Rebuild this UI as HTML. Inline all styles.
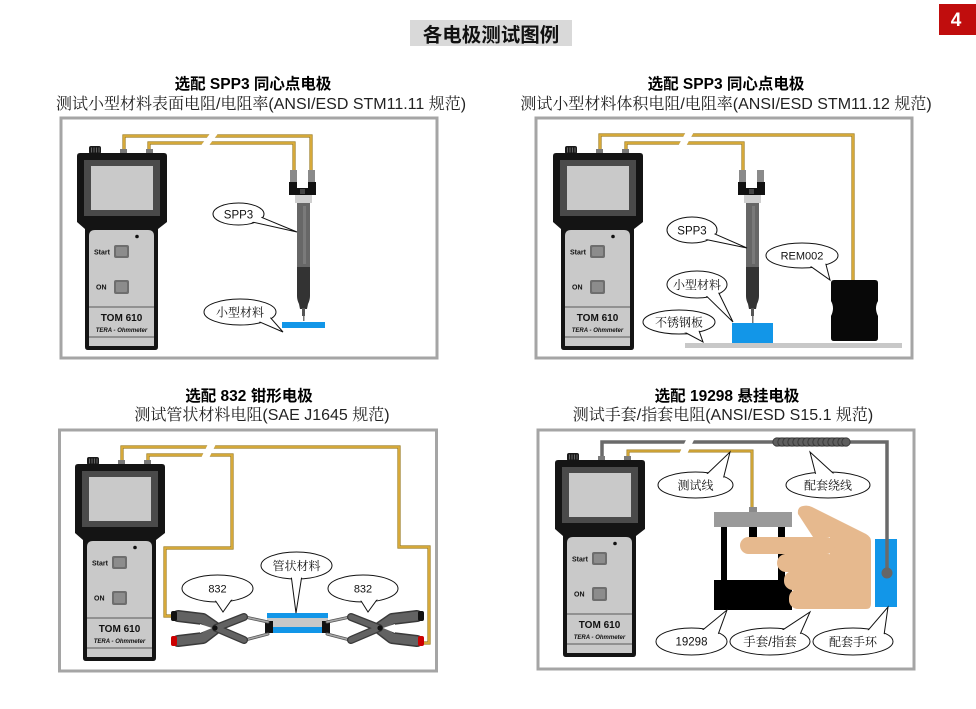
<!DOCTYPE html>
<html><head><meta charset="utf-8"><style>
html,body{margin:0;padding:0;background:#fff;}
svg{display:block;}
.s{font-family:"Liberation Sans","Noto Sans CJK SC",sans-serif;}
.r{font-family:"Liberation Sans","Noto Serif CJK SC","Noto Sans CJK SC",sans-serif;}
.mb{font-family:"Liberation Sans",sans-serif;font-size:7px;font-weight:bold;fill:#111;}
.mt{font-family:"Liberation Sans",sans-serif;font-weight:bold;fill:#111;}
.cl{font-size:12px;fill:#111;}
</style></head><body>
<svg width="976" height="709" viewBox="0 0 976 709" xmlns="http://www.w3.org/2000/svg">
<rect width="976" height="709" fill="#fff"/>
<!-- title -->
<rect x="410" y="20" width="162" height="26" fill="#d9d9d9"/>
<text x="491" y="41.5" text-anchor="middle" class="s" font-size="19.5" font-weight="bold" fill="#111">各电极测试图例</text>
<rect x="939" y="4" width="37" height="31" fill="#c00d0d"/>
<text x="956" y="26" text-anchor="middle" class="s" font-size="19" font-weight="bold" fill="#fff">4</text>

<!-- headings -->
<text x="253" y="89" text-anchor="middle" class="s" font-size="15.5" font-weight="bold" fill="#000">选配 SPP3 同心点电极</text>
<text x="261" y="109" text-anchor="middle" class="r" font-size="16" fill="#222">测试小型材料表面电阻/电阻率(ANSI/ESD STM11.11 规范)</text>
<text x="726" y="89" text-anchor="middle" class="s" font-size="15.5" font-weight="bold" fill="#000">选配 SPP3 同心点电极</text>
<text x="726" y="109" text-anchor="middle" class="r" font-size="16" fill="#222">测试小型材料体积电阻/电阻率(ANSI/ESD STM11.12 规范)</text>
<text x="249" y="401" text-anchor="middle" class="s" font-size="15.5" font-weight="bold" fill="#000">选配 832 钳形电极</text>
<text x="262" y="420" text-anchor="middle" class="r" font-size="16" fill="#222">测试管状材料电阻(SAE J1645 规范)</text>
<text x="727" y="401" text-anchor="middle" class="s" font-size="15.5" font-weight="bold" fill="#000">选配 19298 悬挂电极</text>
<text x="723" y="420" text-anchor="middle" class="r" font-size="16" fill="#222">测试手套/指套电阻(ANSI/ESD S15.1 规范)</text>

<!-- panels -->
<g fill="none" stroke="#a5a5a5" stroke-width="3">
<rect x="61" y="118" width="376" height="240"/>
<rect x="536" y="118" width="376" height="240"/>
<rect x="59.5" y="430" width="377" height="241"/>
<rect x="538" y="430" width="376" height="239"/>
</g>

<!-- ============ TOP LEFT ============ -->
<g fill="none" stroke-linejoin="miter">
<path d="M124 152V136H311V172" stroke="#9a7a20" stroke-width="3.2"/>
<path d="M124 152V136H311V172" stroke="#dcae3c" stroke-width="1.8"/>
<path d="M149 152V143H294V172" stroke="#9a7a20" stroke-width="3.2"/>
<path d="M149 152V143H294V172" stroke="#dcae3c" stroke-width="1.8"/>
</g>
<polygon points="212,131 220,131 207,148 199,148" fill="#fff"/>
<!-- probe TL -->
<g>
<rect x="290" y="170" width="7" height="13" fill="#8a8a8a"/>
<rect x="308" y="170" width="7" height="13" fill="#8a8a8a"/>
<path d="M289 182H297V188H308V182H316V195H289Z" fill="#111"/>
<rect x="300" y="189" width="5" height="5" fill="#444"/>
<rect x="295" y="195" width="17" height="8" fill="#d0d0d0"/>
<rect x="297" y="203" width="13" height="64" fill="#676767"/>
<rect x="303" y="206" width="3" height="58" fill="#7a7a7a"/>
<path d="M297 267H310V296Q310 300 308 304L307 309H300L299 304Q297 300 297 296Z" fill="#333"/>
<rect x="302" y="308" width="3" height="8" fill="#555"/>
<rect x="303" y="316" width="1.5" height="5" fill="#777"/>
<rect x="282" y="322" width="43" height="6" fill="#1296e8"/>
</g>

<!-- ============ TOP RIGHT ============ -->
<g fill="none">
<path d="M600 152V135H853V281" stroke="#9a7a20" stroke-width="3.2"/>
<path d="M600 152V135H853V281" stroke="#dcae3c" stroke-width="1.8"/>
<path d="M626 152V143H743V172" stroke="#9a7a20" stroke-width="3.2"/>
<path d="M626 152V143H743V172" stroke="#dcae3c" stroke-width="1.8"/>
</g>
<polygon points="687,130 695,130 685,148 677,148" fill="#fff"/>
<g transform="translate(449,0)">
<rect x="290" y="170" width="7" height="13" fill="#8a8a8a"/>
<rect x="308" y="170" width="7" height="13" fill="#8a8a8a"/>
<path d="M289 182H297V188H308V182H316V195H289Z" fill="#111"/>
<rect x="300" y="189" width="5" height="5" fill="#444"/>
<rect x="295" y="195" width="17" height="8" fill="#d0d0d0"/>
<rect x="297" y="203" width="13" height="64" fill="#676767"/>
<rect x="303" y="206" width="3" height="58" fill="#7a7a7a"/>
<path d="M297 267H310V296Q310 300 308 304L307 309H300L299 304Q297 300 297 296Z" fill="#333"/>
<rect x="302" y="308" width="3" height="8" fill="#555"/>
<rect x="303" y="316" width="1.5" height="7" fill="#777"/>
</g>
<rect x="685" y="343" width="217" height="5" fill="#c8c8c8"/>
<rect x="732" y="323" width="41" height="20" fill="#1296e8"/>
<path d="M834 280H875Q878 280 878 283V301Q874 308 878 316V338Q878 341 875 341H834Q831 341 831 338V316Q835 308 831 301V283Q831 280 834 280Z" fill="#080808"/>

<!-- ============ BOTTOM LEFT ============ -->
<g fill="none">
<path d="M122 463V447H399V547H429V643H419" stroke="#9a7a20" stroke-width="3.2"/>
<path d="M122 463V447H399V547H429V643H419" stroke="#dcae3c" stroke-width="1.8"/>
<path d="M148 463V455H232V548H165V616H175" stroke="#9a7a20" stroke-width="3.2"/>
<path d="M148 463V455H232V548H165V616H175" stroke="#dcae3c" stroke-width="1.8"/>
</g>
<polygon points="209,442 217,442 208,460 200,460" fill="#fff"/>
<!-- tube -->
<rect x="267" y="613" width="61" height="20" fill="#c8c8c8"/>
<rect x="267" y="613" width="61" height="5" fill="#1296e8"/>
<rect x="267" y="627" width="61" height="6" fill="#1296e8"/>
<rect x="265" y="621" width="8" height="12" fill="#111"/>
<rect x="322" y="621" width="8" height="12" fill="#111"/>
<!-- left clamp -->
<g stroke-linecap="round" fill="none">
<path d="M245 617L268 622M245 640L268 634" stroke="#555" stroke-width="3"/>
<path d="M245 617L268 622M245 640L268 634" stroke="#aaa" stroke-width="1.5"/>
<path d="M178 616L203 619L216 628L203 638L178 641" stroke="#3a3a3a" stroke-width="12" stroke-linejoin="round"/>
<path d="M178 616L203 619L216 628L203 638L178 641" stroke="#626262" stroke-width="9" stroke-linejoin="round"/>
<path d="M216 628L244 617M216 628L244 640" stroke="#3a3a3a" stroke-width="8"/>
<path d="M216 628L244 617M216 628L244 640" stroke="#626262" stroke-width="5.5"/>
</g>
<path d="M200 624L212 628L200 633Z" fill="#fff"/>
<circle cx="215" cy="628" r="2.6" fill="#111"/>
<rect x="171" y="611" width="6" height="10" rx="2" fill="#111"/>
<rect x="171" y="636" width="6" height="10" rx="2" fill="#c00"/>
<!-- right clamp (mirrored) -->
<g transform="translate(595,0) scale(-1,1)">
<g stroke-linecap="round" fill="none">
<path d="M245 617L268 622M245 640L268 634" stroke="#555" stroke-width="3"/>
<path d="M245 617L268 622M245 640L268 634" stroke="#aaa" stroke-width="1.5"/>
<path d="M178 616L203 619L216 628L203 638L178 641" stroke="#3a3a3a" stroke-width="12" stroke-linejoin="round"/>
<path d="M178 616L203 619L216 628L203 638L178 641" stroke="#626262" stroke-width="9" stroke-linejoin="round"/>
<path d="M216 628L244 617M216 628L244 640" stroke="#3a3a3a" stroke-width="8"/>
<path d="M216 628L244 617M216 628L244 640" stroke="#626262" stroke-width="5.5"/>
</g>
<path d="M200 624L212 628L200 633Z" fill="#fff"/>
<circle cx="215" cy="628" r="2.6" fill="#111"/>
<rect x="171" y="611" width="6" height="10" rx="2" fill="#111"/>
<rect x="171" y="636" width="6" height="10" rx="2" fill="#c00"/>
</g>

<!-- ============ BOTTOM RIGHT ============ -->
<path d="M602 459V442H887V573" fill="none" stroke="#6a6a6a" stroke-width="3.5"/>
<g fill="none">
<path d="M628 459V451H752V509" stroke="#9a7a20" stroke-width="3"/>
<path d="M628 459V451H752V509" stroke="#dcae3c" stroke-width="1.6"/>
</g>
<polygon points="688,436 696,436 686,456 678,456" fill="#fff"/>
<!-- coil -->
<rect x="773" y="437.5" width="77" height="9" rx="4.5" fill="#4a4a4a"/>
<g fill="#5e5e5e" stroke="#333" stroke-width="0.8">
<circle cx="777" cy="442" r="4.2"/><circle cx="782" cy="442" r="4.2"/><circle cx="787" cy="442" r="4.2"/><circle cx="792" cy="442" r="4.2"/><circle cx="797" cy="442" r="4.2"/><circle cx="802" cy="442" r="4.2"/><circle cx="807" cy="442" r="4.2"/><circle cx="812" cy="442" r="4.2"/><circle cx="817" cy="442" r="4.2"/><circle cx="822" cy="442" r="4.2"/><circle cx="827" cy="442" r="4.2"/><circle cx="832" cy="442" r="4.2"/><circle cx="837" cy="442" r="4.2"/><circle cx="842" cy="442" r="4.2"/><circle cx="846" cy="442" r="4.2"/>
</g>
<!-- fixture -->
<rect x="749" y="507" width="8" height="6" fill="#8a8a8a"/>
<rect x="714" y="512" width="78" height="15" fill="#9a9a9a"/>
<rect x="721" y="527" width="6" height="55" fill="#000"/>
<rect x="749" y="527" width="8" height="12" fill="#000"/>
<rect x="778" y="527" width="7" height="55" fill="#000"/>
<rect x="714" y="580" width="78" height="30" fill="#000"/>
<!-- hand -->
<g fill="#e6b98e">
<path d="M803 506Q797 507 798 514L813 537H830V609H866Q871 609 871 604V541Q871 537 866 534L812 507Q808 505 803 506Z"/>
<rect x="740" y="537" width="95" height="17" rx="8.5"/>
<rect x="777" y="554" width="60" height="18" rx="9"/>
<rect x="784" y="571" width="55" height="19" rx="9"/>
<rect x="789" y="589" width="50" height="20" rx="9"/>
</g>
<!-- band -->
<rect x="875" y="539" width="22" height="68" fill="#1296e8"/>
<path d="M887 539V573" stroke="#6a6a6a" stroke-width="3.5"/>
<circle cx="887" cy="573" r="5.5" fill="#666"/>

<!-- ============ METERS ============ -->
<g>
<rect x="89" y="146" width="12" height="8" rx="2" fill="#1a1a1a"/>
<path d="M91.5 147.5v5M94 147.5v5M96.5 147.5v5M99 147.5v5" stroke="#777" stroke-width="0.8"/>
<rect x="120" y="149" width="7" height="5" fill="#7a7a7a"/>
<rect x="146" y="149" width="7" height="5" fill="#7a7a7a"/>
<path d="M80 153H164Q167 153 167 156V222L158 229V347Q158 350 155 350H88Q85 350 85 347V229L77 222V156Q77 153 80 153Z" fill="#141414"/>
<rect x="84" y="160" width="76" height="56" fill="#4a4a4a"/>
<rect x="91" y="166" width="62" height="44" fill="#c9c9c9"/>
<path d="M89 236Q89 230 95 230H148Q154 230 154 236V346H89Z" fill="#c9c9c9"/>
<circle cx="137" cy="236.5" r="1.8" fill="#111"/>
<text x="94" y="254.5" class="mb">Start</text>
<rect x="114" y="245" width="15" height="13" rx="2" fill="#6e6e6e"/>
<rect x="116" y="247" width="11" height="9" rx="1" fill="#8c8c8c"/>
<text x="96" y="289.5" class="mb">ON</text>
<rect x="114" y="280" width="15" height="14" rx="2" fill="#6e6e6e"/>
<rect x="116" y="282" width="11" height="10" rx="1" fill="#8c8c8c"/>
<line x1="89" y1="307" x2="154" y2="307" stroke="#333" stroke-width="0.8"/>
<text x="121.5" y="321" text-anchor="middle" class="mt" font-size="10">TOM 610</text>
<text x="121.5" y="332" text-anchor="middle" class="mt" font-size="6" font-style="italic">TERA - Ohmmeter</text>
<line x1="89" y1="337" x2="154" y2="337" stroke="#333" stroke-width="0.8"/>
</g>
<g transform="translate(476,0)">
<rect x="89" y="146" width="12" height="8" rx="2" fill="#1a1a1a"/>
<path d="M91.5 147.5v5M94 147.5v5M96.5 147.5v5M99 147.5v5" stroke="#777" stroke-width="0.8"/>
<rect x="120" y="149" width="7" height="5" fill="#7a7a7a"/>
<rect x="146" y="149" width="7" height="5" fill="#7a7a7a"/>
<path d="M80 153H164Q167 153 167 156V222L158 229V347Q158 350 155 350H88Q85 350 85 347V229L77 222V156Q77 153 80 153Z" fill="#141414"/>
<rect x="84" y="160" width="76" height="56" fill="#4a4a4a"/>
<rect x="91" y="166" width="62" height="44" fill="#c9c9c9"/>
<path d="M89 236Q89 230 95 230H148Q154 230 154 236V346H89Z" fill="#c9c9c9"/>
<circle cx="137" cy="236.5" r="1.8" fill="#111"/>
<text x="94" y="254.5" class="mb">Start</text>
<rect x="114" y="245" width="15" height="13" rx="2" fill="#6e6e6e"/>
<rect x="116" y="247" width="11" height="9" rx="1" fill="#8c8c8c"/>
<text x="96" y="289.5" class="mb">ON</text>
<rect x="114" y="280" width="15" height="14" rx="2" fill="#6e6e6e"/>
<rect x="116" y="282" width="11" height="10" rx="1" fill="#8c8c8c"/>
<line x1="89" y1="307" x2="154" y2="307" stroke="#333" stroke-width="0.8"/>
<text x="121.5" y="321" text-anchor="middle" class="mt" font-size="10">TOM 610</text>
<text x="121.5" y="332" text-anchor="middle" class="mt" font-size="6" font-style="italic">TERA - Ohmmeter</text>
<line x1="89" y1="337" x2="154" y2="337" stroke="#333" stroke-width="0.8"/>
</g>
<g transform="translate(-2,311)">
<rect x="89" y="146" width="12" height="8" rx="2" fill="#1a1a1a"/>
<path d="M91.5 147.5v5M94 147.5v5M96.5 147.5v5M99 147.5v5" stroke="#777" stroke-width="0.8"/>
<rect x="120" y="149" width="7" height="5" fill="#7a7a7a"/>
<rect x="146" y="149" width="7" height="5" fill="#7a7a7a"/>
<path d="M80 153H164Q167 153 167 156V222L158 229V347Q158 350 155 350H88Q85 350 85 347V229L77 222V156Q77 153 80 153Z" fill="#141414"/>
<rect x="84" y="160" width="76" height="56" fill="#4a4a4a"/>
<rect x="91" y="166" width="62" height="44" fill="#c9c9c9"/>
<path d="M89 236Q89 230 95 230H148Q154 230 154 236V346H89Z" fill="#c9c9c9"/>
<circle cx="137" cy="236.5" r="1.8" fill="#111"/>
<text x="94" y="254.5" class="mb">Start</text>
<rect x="114" y="245" width="15" height="13" rx="2" fill="#6e6e6e"/>
<rect x="116" y="247" width="11" height="9" rx="1" fill="#8c8c8c"/>
<text x="96" y="289.5" class="mb">ON</text>
<rect x="114" y="280" width="15" height="14" rx="2" fill="#6e6e6e"/>
<rect x="116" y="282" width="11" height="10" rx="1" fill="#8c8c8c"/>
<line x1="89" y1="307" x2="154" y2="307" stroke="#333" stroke-width="0.8"/>
<text x="121.5" y="321" text-anchor="middle" class="mt" font-size="10">TOM 610</text>
<text x="121.5" y="332" text-anchor="middle" class="mt" font-size="6" font-style="italic">TERA - Ohmmeter</text>
<line x1="89" y1="337" x2="154" y2="337" stroke="#333" stroke-width="0.8"/>
</g>
<g transform="translate(478,307)">
<rect x="89" y="146" width="12" height="8" rx="2" fill="#1a1a1a"/>
<path d="M91.5 147.5v5M94 147.5v5M96.5 147.5v5M99 147.5v5" stroke="#777" stroke-width="0.8"/>
<rect x="120" y="149" width="7" height="5" fill="#7a7a7a"/>
<rect x="146" y="149" width="7" height="5" fill="#7a7a7a"/>
<path d="M80 153H164Q167 153 167 156V222L158 229V347Q158 350 155 350H88Q85 350 85 347V229L77 222V156Q77 153 80 153Z" fill="#141414"/>
<rect x="84" y="160" width="76" height="56" fill="#4a4a4a"/>
<rect x="91" y="166" width="62" height="44" fill="#c9c9c9"/>
<path d="M89 236Q89 230 95 230H148Q154 230 154 236V346H89Z" fill="#c9c9c9"/>
<circle cx="137" cy="236.5" r="1.8" fill="#111"/>
<text x="94" y="254.5" class="mb">Start</text>
<rect x="114" y="245" width="15" height="13" rx="2" fill="#6e6e6e"/>
<rect x="116" y="247" width="11" height="9" rx="1" fill="#8c8c8c"/>
<text x="96" y="289.5" class="mb">ON</text>
<rect x="114" y="280" width="15" height="14" rx="2" fill="#6e6e6e"/>
<rect x="116" y="282" width="11" height="10" rx="1" fill="#8c8c8c"/>
<line x1="89" y1="307" x2="154" y2="307" stroke="#333" stroke-width="0.8"/>
<text x="121.5" y="321" text-anchor="middle" class="mt" font-size="10">TOM 610</text>
<text x="121.5" y="332" text-anchor="middle" class="mt" font-size="6" font-style="italic">TERA - Ohmmeter</text>
<line x1="89" y1="337" x2="154" y2="337" stroke="#333" stroke-width="0.8"/>
</g>

<!-- ============ CALLOUTS ============ -->
<g stroke="#111" stroke-width="1" fill="#fff">
<ellipse cx="238.5" cy="214" rx="25.5" ry="11"/>
<path d="M259.4 216.4L297 232L250.9 221.7"/>
<ellipse cx="238.5" cy="214" rx="24.3" ry="9.8" stroke="none"/>
<ellipse cx="240" cy="312" rx="36" ry="13"/>
<path d="M268.8 315.8L283 332L257.6 321.1"/>
<ellipse cx="240" cy="312" rx="34.8" ry="11.8" stroke="none"/>
<ellipse cx="692" cy="230" rx="25" ry="13"/>
<path d="M712.5 232.9L747 248L704.2 239.1"/>
<ellipse cx="692" cy="230" rx="23.8" ry="11.8" stroke="none"/>
<ellipse cx="802" cy="255.5" rx="36" ry="12.5"/>
<path d="M825.4 262.3L830 280L809.9 265.8"/>
<ellipse cx="802" cy="255.5" rx="34.8" ry="11.3" stroke="none"/>
<ellipse cx="697" cy="284.5" rx="30" ry="13.5"/>
<path d="M717.9 291.1L733 322L705.7 295.3"/>
<ellipse cx="697" cy="284.5" rx="28.8" ry="12.3" stroke="none"/>
<ellipse cx="679" cy="322" rx="36" ry="12"/>
<path d="M698.7 329.8L703 342L684.3 332"/>
<ellipse cx="679" cy="322" rx="34.8" ry="10.8" stroke="none"/>
<ellipse cx="217.5" cy="588.5" rx="35.5" ry="13.5"/>
<path d="M232.6 598.4L223 612L214.9 599.9"/>
<ellipse cx="217.5" cy="588.5" rx="34.3" ry="12.3" stroke="none"/>
<ellipse cx="296.5" cy="565.5" rx="35.5" ry="13.5"/>
<path d="M301.7 576.8L296 613L291.3 576.8"/>
<ellipse cx="296.5" cy="565.5" rx="34.3" ry="12.3" stroke="none"/>
<ellipse cx="363" cy="588.5" rx="35" ry="13.5"/>
<path d="M377.9 598.4L368 612L360.4 599.9"/>
<ellipse cx="363" cy="588.5" rx="33.8" ry="12.3" stroke="none"/>
<ellipse cx="695.5" cy="485" rx="37.5" ry="13"/>
<path d="M723.1 479.5L730 452L706.4 474.6"/>
<ellipse cx="695.5" cy="485" rx="36.3" ry="11.8" stroke="none"/>
<ellipse cx="828" cy="485" rx="42" ry="13"/>
<path d="M834.2 474.1L810 452L815.8 474.6"/>
<ellipse cx="828" cy="485" rx="40.8" ry="11.8" stroke="none"/>
<ellipse cx="691.5" cy="641.5" rx="35.5" ry="13.5"/>
<path d="M717.6 635.8L727 610L701.8 630.7"/>
<ellipse cx="691.5" cy="641.5" rx="34.3" ry="12.3" stroke="none"/>
<ellipse cx="770" cy="641.5" rx="40" ry="13.5"/>
<path d="M799.4 635.8L810 612L781.6 630.7"/>
<ellipse cx="770" cy="641.5" rx="38.8" ry="12.3" stroke="none"/>
<ellipse cx="853" cy="641.5" rx="40" ry="13.5"/>
<path d="M883.8 636.6L888 607L867.4 631.1"/>
<ellipse cx="853" cy="641.5" rx="38.8" ry="12.3" stroke="none"/>
</g>
<g text-anchor="middle" class="r">
<text x="238.5" y="218.5" font-size="11.5" fill="#111">SPP3</text>
<text x="240" y="316.5" class="cl">小型材料</text>
<text x="692" y="234.5" font-size="11.5" fill="#111">SPP3</text>
<text x="802" y="259.5" font-size="11" fill="#111">REM002</text>
<text x="697" y="289" class="cl">小型材料</text>
<text x="679" y="326.5" class="cl">不锈钢板</text>
<text x="217.5" y="592.5" font-size="11" fill="#111">832</text>
<text x="296.5" y="570" class="cl">管状材料</text>
<text x="363" y="592.5" font-size="11" fill="#111">832</text>
<text x="695.5" y="489.5" class="cl">测试线</text>
<text x="828" y="489.5" class="cl">配套绕线</text>
<text x="691.5" y="645.5" font-size="11.5" fill="#111">19298</text>
<text x="770" y="646" font-size="12.5" fill="#111">手套/指套</text>
<text x="853" y="646" class="cl">配套手环</text>
</g>
</svg>
</body></html>
